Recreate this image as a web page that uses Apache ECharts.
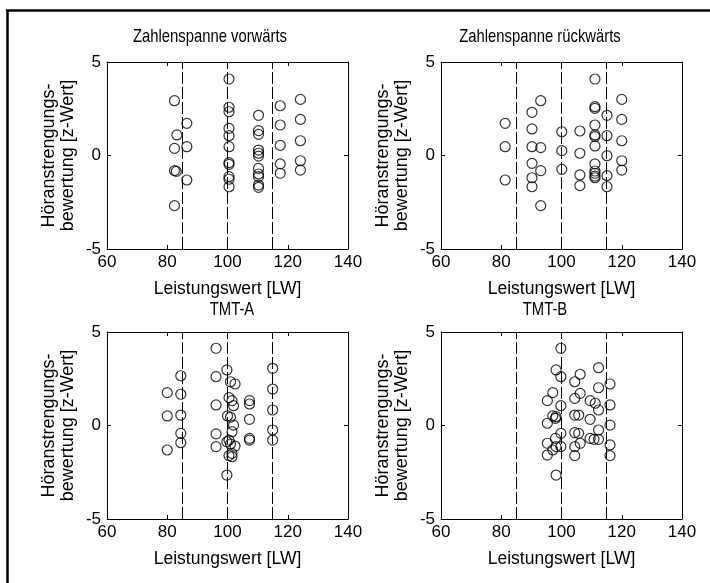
<!DOCTYPE html>
<html lang="de">
<head>
<meta charset="UTF-8">
<title>Höranstrengung vs. Leistungswert</title>
<style>
    html, body { margin: 0; height: 100%; background: #fff; overflow: hidden; }
    #main { width: 710px; height: 583px; }
</style>
</head>
<body>
<div id="main"></div>
<script src="https://cdn.jsdelivr.net/npm/echarts/dist/echarts.min.js"></script>
<script>
    // panel titles
    const titles = ['Zahlenspanne vorwärts', 'Zahlenspanne rückwärts', 'TMT-A', 'TMT-B'];
    const xName = 'Leistungswert [LW]';
    const yName = 'Höranstrengungs-\nbewertung [z-Wert]';

    // axis ranges / ticks
    const xMin = 60, xMax = 140, xStep = 20;
    const yMin = -5, yMax = 5, yStep = 5;
    // dashed reference lines (LW 85 / 100 / 115)
    const cutLines = [85, 100, 115];

    // [Leistungswert, z-Wert]
    const vorwaerts = [
        [82.4, 2.93], [83.2, 1.10], [82.4, 0.38], [82.4, -0.81], [83.0, -0.85], [82.4, -2.68],
        [86.5, 1.72], [86.5, 0.47], [86.5, -1.31],
        [100.5, 4.09], [100.5, 2.58], [100.5, 2.34], [100.5, 1.45], [100.5, 1.06], [100.5, 0.47],
        [100.5, -0.38], [100.5, -0.47], [100.5, -1.13], [100.5, -1.27], [100.5, -1.67],
        [110.3, 2.15], [110.3, 1.33], [110.3, 1.13], [110.3, 0.29], [110.3, 0.12], [110.3, -0.03],
        [110.3, -0.69], [110.3, -0.99], [110.3, -1.13], [110.3, -1.58], [110.3, -1.70],
        [117.5, 2.66], [117.5, 1.63], [117.5, 0.54], [117.5, -0.45], [117.5, -0.95],
        [124.2, 3.00], [124.2, 1.93], [124.2, 0.79], [124.2, -0.28], [124.2, -0.78]
    ];
    const rueckwaerts = [
        [81.3, 1.72], [81.3, 0.47], [81.3, -1.31],
        [90.2, 2.31], [90.2, 1.42], [90.2, 0.47], [90.2, -0.42], [90.2, -1.19], [90.2, -1.67],
        [93.1, 2.93], [93.1, 0.42], [93.1, -0.81], [93.1, -2.68],
        [100.1, 1.27], [100.1, 0.26], [100.1, -0.74],
        [106.1, 1.31], [106.1, 0.12], [106.1, -1.04], [106.1, -1.61],
        [111.1, 4.09], [111.1, 2.61], [111.1, 2.52], [111.1, 1.63], [111.1, 1.10], [111.1, 1.01],
        [111.1, 0.51], [111.1, -0.45], [111.1, -0.83], [111.1, -0.95], [111.1, -1.10], [111.1, -1.19],
        [115.1, 2.15], [115.1, 1.06], [115.1, -0.01], [115.1, -1.08], [115.1, -1.67],
        [120.0, 3.00], [120.0, 1.93], [120.0, 0.79], [120.0, -0.28], [120.0, -0.78]
    ];
    const tmtA = [
        [80.0, 1.76], [80.0, 0.51], [80.0, -1.31],
        [84.5, 2.66], [84.5, 1.67], [84.5, 0.56], [84.5, -0.42], [84.5, -0.92],
        [96.2, 4.13], [96.2, 2.61], [96.2, 1.10], [96.2, -0.45], [96.2, -1.13],
        [99.8, 2.97], [99.8, -0.87], [99.8, -2.65],
        [101.0, 2.34], [102.5, 2.22], [100.5, 1.49], [101.5, 1.33], [102.0, 1.06], [100.0, 0.51],
        [101.0, 0.44], [102.0, 0.02], [101.5, -0.33], [100.5, -0.78], [101.0, -0.99], [102.5, -1.10],
        [101.5, -1.49], [100.5, -1.61], [101.5, -1.67],
        [107.3, 1.33], [107.3, 1.15], [107.3, 0.33], [107.3, -0.69], [107.3, -0.78],
        [115.0, 3.06], [115.0, 1.95], [115.0, 0.83], [115.0, -0.24], [115.0, -0.78]
    ];
    const tmtB = [
        [99.8, 4.13], [98.2, 2.97], [99.8, 2.61], [97.1, 1.76], [95.3, 1.33], [99.8, 1.06],
        [97.1, 0.51], [98.2, 0.47], [98.0, 0.38], [95.3, 0.12], [99.8, -0.42], [98.0, -0.69],
        [95.3, -0.95], [98.2, -1.13], [99.8, -1.13], [97.1, -1.31], [95.3, -1.58], [98.2, -2.65],
        [104.4, 2.34], [106.2, 2.74], [104.4, 1.45], [106.2, 1.72], [104.4, 0.56], [105.7, 0.56],
        [104.4, -0.38], [105.7, -0.42], [106.2, -0.95], [104.4, -1.13], [104.4, -1.61],
        [109.5, 1.33], [109.5, 0.33], [109.5, -0.69], [110.8, -0.74], [111.2, 1.19],
        [112.3, 3.09], [112.3, 2.02], [112.3, 0.83], [112.3, -0.24], [112.3, -0.74],
        [116.1, 2.22], [116.1, 1.10], [116.1, 0.02], [116.1, -1.04], [116.1, -1.61]
    ];
    const panels = [vorwaerts, rueckwaerts, tmtA, tmtB];

    // layout
    const grids = [
        { left: 107, top: 62, width: 241, height: 187 },
        { left: 441, top: 62, width: 241, height: 187 },
        { left: 107, top: 332, width: 241, height: 187 },
        { left: 441, top: 332, width: 241, height: 187 }
    ];
    // title centre points
    const titlePos = [[210, 37], [540, 37], [232, 310], [545, 310]];

    const font = '"Liberation Sans", Arial, sans-serif';
    const black = '#000';

    var myChart = echarts.init(document.getElementById('main'), null, { renderer: 'canvas' });

    var xAxes = [], yAxes = [], series = [];
    grids.forEach(function (g, i) {
        // bottom axis with labels
        xAxes.push({
            gridIndex: i, type: 'value', min: xMin, max: xMax, interval: xStep,
            name: xName, nameLocation: 'middle', nameGap: 31,
            nameTextStyle: { color: black, fontSize: 17.5, fontFamily: font },
            axisLine: { onZero: false, lineStyle: { color: black, width: 1 } },
            axisTick: { inside: true, length: 4, lineStyle: { color: black } },
            axisLabel: { color: black, fontSize: 17, fontFamily: font, margin: 5 },
            splitLine: { show: false }
        });
        // top mirror axis (ticks only)
        xAxes.push({
            gridIndex: i, type: 'value', position: 'top', min: xMin, max: xMax, interval: xStep,
            axisLine: { onZero: false, lineStyle: { color: black, width: 1 } },
            axisTick: { inside: true, length: 4, lineStyle: { color: black } },
            axisLabel: { show: false },
            splitLine: { show: false }
        });
        yAxes.push({
            gridIndex: i, type: 'value', min: yMin, max: yMax, interval: yStep,
            name: yName, nameLocation: 'middle', nameGap: 29, nameRotate: 90,
            nameTextStyle: { color: black, fontSize: 18, fontFamily: font, lineHeight: 19 },
            axisLine: { onZero: false, lineStyle: { color: black, width: 1 } },
            axisTick: { inside: true, length: 4, lineStyle: { color: black } },
            axisLabel: { color: black, fontSize: 17, fontFamily: font, margin: 6, padding: [0, 0, 8, 0] },
            splitLine: { show: false }
        });
        yAxes.push({
            gridIndex: i, type: 'value', position: 'right', min: yMin, max: yMax, interval: yStep,
            axisLine: { onZero: false, lineStyle: { color: black, width: 1 } },
            axisTick: { inside: true, length: 4, lineStyle: { color: black } },
            axisLabel: { show: false },
            splitLine: { show: false }
        });
        series.push({
            type: 'scatter',
            xAxisIndex: i * 2, yAxisIndex: i * 2,
            data: panels[i],
            symbol: 'circle', symbolSize: 10,
            itemStyle: { color: 'rgba(0,0,0,0)', borderColor: black, borderWidth: 1.2 },
            emphasis: { disabled: true },
            silent: true,
            markLine: {
                silent: true, symbol: 'none', animation: false,
                label: { show: false },
                lineStyle: { color: black, width: 1, type: [12, 3] },
                data: cutLines.map(function (v) { return { xAxis: v }; })
            },
            z: 3
        });
    });

    // titles as condensed text (the original uses a narrow Helvetica)
    var titleTexts = titles.map(function (t, i) {
        return {
            type: 'text', x: titlePos[i][0], y: titlePos[i][1], scaleX: 0.78,
            style: {
                text: t, fill: black, font: '19px ' + font,
                textAlign: 'center', textVerticalAlign: 'middle'
            }
        };
    });

    var option = {
        backgroundColor: '#fff',
        animation: false,
        grid: grids,
        xAxis: xAxes,
        yAxis: yAxes,
        series: series,
        graphic: {
            elements: titleTexts.concat([
                // heavy frame on the left and top edge
                { type: 'line', shape: { x1: 7.5, y1: 10, x2: 7.5, y2: 583 }, style: { stroke: black, lineWidth: 2.5 } },
                { type: 'line', shape: { x1: 6, y1: 10.5, x2: 710, y2: 10.5 }, style: { stroke: black, lineWidth: 2.5 } }
            ])
        }
    };
    myChart.setOption(option);
</script>
</body>
</html>
